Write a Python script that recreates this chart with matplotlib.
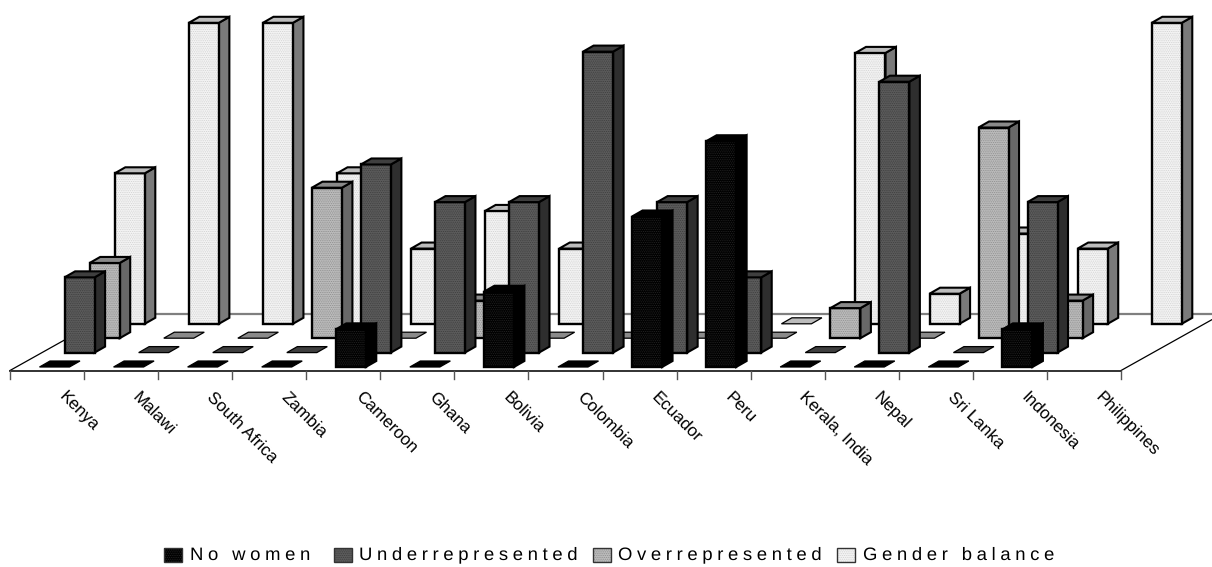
#coding:utf-8

import numpy as np
import matplotlib
matplotlib.use('Agg')
import matplotlib.pyplot as plt
from matplotlib.patches import Polygon, Rectangle

plt.rcParams['font.family'] = ['Liberation Sans', 'DejaVu Sans']
plt.rcParams['hatch.linewidth'] = 0.5
plt.rcParams['text.hinting'] = 'no_hinting'

nan = np.nan

countries = ['Kenya', 'Malawi', 'South Africa', 'Zambia', 'Cameroon', 'Ghana', 'Bolivia',
             'Colombia', 'Ecuador', 'Peru', 'Kerala, India', 'Nepal', 'Sri Lanka',
             'Indonesia', 'Philippines']
series_names = ['No women', 'Underrepresented', 'Overrepresented', 'Gender balance']

no_women = [0, 0, 0, 0, 12.5, 0, 25, 0, 50, 75, 0, 0, 0, 12.5, nan]
underrepresented = [25, 0, 0, 0, 62.5, 50, 50, 100, 50, 25, 0, 90, 0, 50, nan]
overrepresented = [25, 0, 0, 50, 0, 12.5, 0, 0, 0, 0, 10, 0, 70, 12.5, nan]
gender_balance = [50, 100, 100, 50, 25, 37.5, 25, 0, 0, 0, 90, 10, 30, 25, 100]
series_values = [no_women, underrepresented, overrepresented, gender_balance]

# front, dots on front, top, side
shades = [('#000000', '#262626', '#000000', '#000000'),
          ('#5c5c5c', '#3c3c3c', '#3f3f3f', '#2e2e2e'),
          ('#bcbcbc', '#8c8c8c', '#8a8a8a', '#686868'),
          ('#f4f4f4', '#d0d0d0', '#bcbcbc', '#7a7a7a')]
DOTS = '.........'

# one category and one value unit, measured on the canvas
CAT_PX = 74.07
VAL_PX = 3.01
to_x = lambda px: px / CAT_PX
to_y = lambda px: px / VAL_PX

BAR_W = to_x(30)
BAR_DX, BAR_DY = to_x(10.5), to_y(6)
SER_DX, SER_DY = to_x(25.1), to_y(14.4)
START_X, START_Y = to_x(29.5), to_y(3.5)
FLOOR_DX, FLOOR_DY = to_x(101), to_y(56.5)

fig = plt.figure(figsize=(12.12, 5.67), dpi=100, facecolor='white')
ax = fig.add_axes([0, 0, 1, 1])
ax.set_xlim(-10 / CAT_PX, (1212 - 10) / CAT_PX)
ax.set_ylim((370.5 - 567) / VAL_PX, 370.5 / VAL_PX)
ax.axis('off')

n = len(countries)

# floor outline
ax.plot([0, FLOOR_DX], [0, FLOOR_DY], color='black', lw=0.9, zorder=1)
ax.plot([n, n + FLOOR_DX], [0, FLOOR_DY], color='black', lw=0.9, zorder=1)
ax.plot([FLOOR_DX, n + FLOOR_DX], [FLOOR_DY, FLOOR_DY], color='#7f7f7f', lw=1.6, zorder=1)
ax.plot([0, n], [0, 0], color='#222222', lw=1.3, zorder=1)
for i in range(n + 1):
    ax.plot([i, i], [0, to_y(-8)], color='#555555', lw=1.0, zorder=1)


def draw_bar(x, y, val, cols):
    front, dots, top, side = cols
    z = 2
    xr, yt = x + BAR_W, y + val
    top_pts = [(x, yt), (xr, yt), (xr + BAR_DX, yt + BAR_DY), (x + BAR_DX, yt + BAR_DY)]
    side_pts = [(xr, y), (xr + BAR_DX, y + BAR_DY), (xr + BAR_DX, yt + BAR_DY), (xr, yt)]
    front_pts = [(x, y), (xr, y), (xr, yt), (x, yt)]
    if val > 0:
        ax.add_patch(Polygon(side_pts, closed=True, fc=side, ec='black', lw=1.5, zorder=z))
        ax.add_patch(Polygon(front_pts, closed=True, fc=front, ec='none', zorder=z))
        ax.add_patch(Polygon(front_pts, closed=True, fc='none', ec=dots, lw=0, hatch=DOTS, zorder=z))
        ax.add_patch(Polygon(front_pts, closed=True, fc='none', ec='black', lw=1.7, zorder=z))
    ax.add_patch(Polygon(top_pts, closed=True, fc=top, ec='black', lw=1.5 if val > 0 else 0.9, zorder=z))


# back series first so nearer bars cover them
for s in range(3, -1, -1):
    for i in range(n):
        v = series_values[s][i]
        if np.isnan(v):
            continue
        draw_bar(i + START_X + s * SER_DX, START_Y + s * SER_DY, v, shades[s])

for i, name in enumerate(countries):
    ax.text(i + 0.5 + to_x(14), to_y(-24), name, rotation=-45, rotation_mode='anchor',
            ha='left', va='center', fontsize=12.3, color='black')

# legend, spaced out lettering
W, H = 1212.0, 567.0
legend_boxes = [164, 334, 593, 837]
legend_text = [190, 359, 618, 863]
for s, name in enumerate(series_names):
    for fc, ec, lw, hatch in [(shades[s][0], 'none', 0, None),
                              ('none', shades[s][1], 0, DOTS),
                              ('none', '#333333', 1.0, None)]:
        fig.patches.append(Rectangle((legend_boxes[s] / W, 1 - 562 / H), 18 / W, 14 / H,
                                     transform=fig.transFigure, fc=fc, ec=ec, lw=lw,
                                     hatch=hatch, figure=fig))
    spaced = '\u2002\u2005'.join('\u2005'.join(word) for word in name.split())
    fig.text(legend_text[s] / W, 1 - 555 / H, spaced, fontsize=13.3,
             ha='left', va='center', color='black')

fig.savefig('out.png', dpi=100)
plt.close(fig)
